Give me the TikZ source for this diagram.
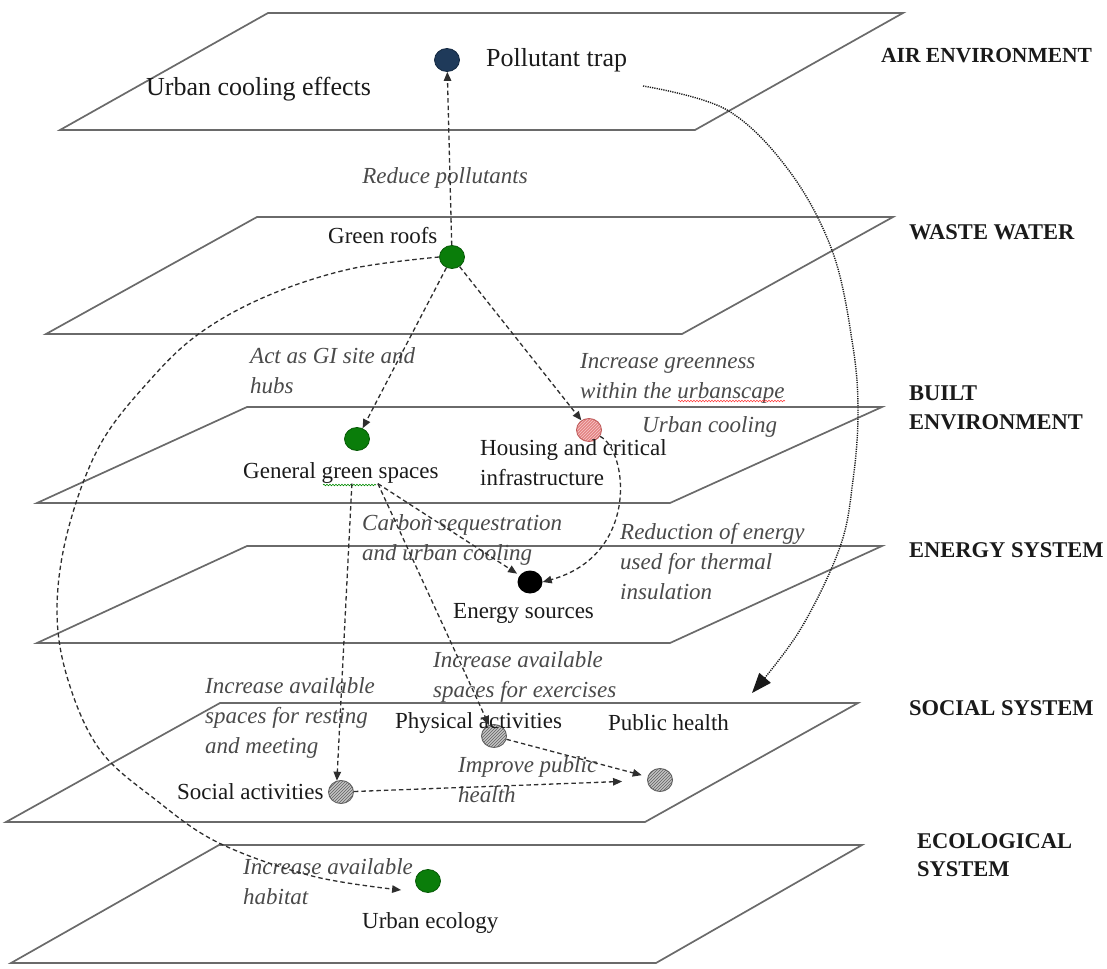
\documentclass[tikz,border=0pt]{standalone}
\usepackage{fontspec}
\setmainfont{Liberation Serif}
\usetikzlibrary{arrows.meta,shapes.geometric,patterns,decorations.pathmorphing}
\definecolor{planec}{HTML}{6A6A6A}
\definecolor{linec}{HTML}{2E2E2E}
\definecolor{itc}{HTML}{4A4A4A}
\definecolor{txtc}{HTML}{1A1A1A}
\definecolor{navy}{HTML}{1F3A5A}
\definecolor{navyd}{HTML}{142840}
\definecolor{grn}{HTML}{0A7D0A}
\definecolor{grnd}{HTML}{075A07}
\definecolor{pinkf}{HTML}{E48484}
\definecolor{pinks}{HTML}{F6CACA}
\definecolor{pinkd}{HTML}{C05E5E}
\definecolor{grayf}{HTML}{C4C4C4}
\definecolor{grayd}{HTML}{606060}
\begin{document}
\begin{tikzpicture}[x=1pt,y=-1pt,
  plane/.style={draw=planec,line width=1.7pt,line join=miter},
  lbl/.style={font=\fontsize{23}{30}\selectfont,text=txtc,inner sep=0pt,align=left},
  toplbl/.style={font=\fontsize{26}{30}\selectfont,text=txtc,inner sep=0pt},
  itl/.style={font=\fontsize{23}{30}\selectfont\itshape,text=itc,inner sep=0pt,align=left},
  side/.style={font=\fontsize{22.5}{29}\selectfont\bfseries,text=txtc,inner sep=0pt,align=left},
  dot/.style={ellipse,minimum width=25pt,minimum height=23pt,inner sep=0pt},
  greendot/.style={dot,fill=grn,draw=grnd,line width=0.8pt},
  hatchdot/.style={dot,draw=grayd,line width=0.9pt,preaction={fill=grayf},pattern=north east lines,pattern color=grayd},
  link/.style={draw=linec,line width=1.3pt,dash pattern=on 4.5pt off 3pt,-{Triangle[length=9pt,width=7.5pt]}},
  dotlink/.style={draw=black!90,line width=1.4pt,dash pattern=on 1.2pt off 1.1pt,-{Triangle[length=20pt,width=15pt]}},
  wavy/.style={line width=0.6pt,decorate,decoration={snake,amplitude=0.8pt,segment length=3pt}}
  ]
\useasboundingbox (0,0) rectangle (1107,968);

% planes
\draw[plane] (268,13) -- (903,13) -- (695,130) -- (60,130) -- cycle;
\draw[plane] (257,217) -- (893,217) -- (682,334) -- (46,334) -- cycle;
\draw[plane] (247,407) -- (882,407) -- (670,503) -- (37,503) -- cycle;
\draw[plane] (247,546) -- (882,546) -- (670,643) -- (37,643) -- cycle;
\draw[plane] (220,703) -- (858,703) -- (645,822) -- (6,822) -- cycle;
\draw[plane] (219,845) -- (862,845) -- (656,963) -- (11,963) -- cycle;

% dots
\node[dot,fill=navy,draw=navyd,line width=0.8pt] (pt) at (447,60) {};
\node[greendot] (gr) at (452,257) {};
\node[greendot] (ggs) at (357,439) {};
\node[dot,draw=pinkd,line width=0.9pt,preaction={fill=pinkf},pattern=north east lines,pattern color=pinks] (hs) at (589,430) {};
\node[dot,fill=black] (es) at (530,582) {};
\node[hatchdot] (pa) at (494,736) {};
\node[hatchdot] (ph) at (660,780) {};
\node[hatchdot] (sa) at (341,792) {};
\node[greendot] (ue) at (428,881) {};

% labels
\node[toplbl,anchor=west] (ptl) at (486,60) {Pollutant trap};
\node[toplbl,anchor=west] (ucl) at (146,89) {Urban cooling effects};
\node[itl,anchor=center] (rpl) at (445,178) {Reduce pollutants};
\node[lbl,anchor=west] (grl) at (328,236) {Green roofs};
\node[itl,anchor=west] (agl) at (250,371) {Act as GI site and\\hubs};
\node[itl,anchor=west] (igl) at (580,378) {Increase greenness\\within the urbanscape};
\node[itl,anchor=west] (ucol) at (642,427) {Urban cooling};
\node[lbl,anchor=west] (ggsl) at (243,473) {General green spaces};
\node[lbl,anchor=west] (hsl) at (480,463) {Housing and critical\\infrastructure};
\node[itl,anchor=west] (csl) at (362,540) {Carbon sequestration\\and urban cooling};
\node[itl,anchor=west] (rel) at (620,562) {Reduction of energy\\used for thermal\\insulation};
\node[lbl,anchor=west] (esl) at (453,613) {Energy sources};
\node[itl,anchor=west] (iel) at (433,677) {Increase available\\spaces for exercises};
\node[itl,anchor=west] (irl) at (205,718) {Increase available\\spaces for resting\\and meeting};
\node[lbl,anchor=west] (pal) at (395,723) {Physical activities};
\node[lbl,anchor=west] (phl) at (608,723) {Public health};
\node[itl,anchor=west] (ipl) at (458,780) {Improve public\\health};
\node[lbl,anchor=west] (sal) at (177,792) {Social activities};
\node[itl,anchor=west] (ihl) at (243,882) {Increase available\\habitat};
\node[lbl,anchor=west] (uel) at (362,923) {Urban ecology};

% side labels
\node[side,anchor=west,font=\fontsize{21.5}{26}\selectfont\bfseries] (s1) at (881,56) {AIR ENVIRONMENT};
\node[side,anchor=west] (s2) at (909,232) {WASTE WATER};
\node[side,anchor=west] (s3) at (909,408) {BUILT\\ENVIRONMENT};
\node[side,anchor=west] (s4) at (909,550) {ENERGY SYSTEM};
\node[side,anchor=west] (s5) at (909,708) {SOCIAL SYSTEM};
\node[side,anchor=west,font=\fontsize{22.5}{28}\selectfont\bfseries] (s6) at (917,855) {ECOLOGICAL\\SYSTEM};

% spell-check underlines
\draw[wavy,red!75] (678,401) -- (785,401);
\draw[wavy,green!55!black] (323,485) -- (376,485);

% connectors
\draw[link] (gr) -- (pt);
\draw[link] (gr) -- (ggs);
\draw[link] (gr) -- (hs);
\draw[link] ([xshift=11pt]ggsl.south) -- (sa.110);
\draw[link,shorten >=3pt] ([xshift=37pt]ggsl.south) -- (es);
\draw[link] ([xshift=37pt]ggsl.south) -- (pa);
\draw[link] (hs.-30) .. controls (628,450) and (640,555) .. (es.east);
\draw[link,shorten >=6pt] (pa) -- (ph);
\draw[link,shorten >=25pt] (sa) -- (ph);
\draw[link] plot[smooth,tension=0.6] coordinates {(gr.west) (350,269) (267,296) (200,333) (150,380) (100,445) (68,530) (57,610) (68,680) (100,750) (156,800) (219,843) (312,876) ([xshift=-14pt,yshift=-9pt]ue.west)};
\coordinate (dstart) at (643,86);
\coordinate (dend) at (752,693);
\draw[dotlink] plot[smooth,tension=0.6] coordinates {(dstart) (727,110) (790,172) (833,253) (853,347) (858,413) (853,480) (840,547) (800,630) (dend)};
\end{tikzpicture}
\end{document}
